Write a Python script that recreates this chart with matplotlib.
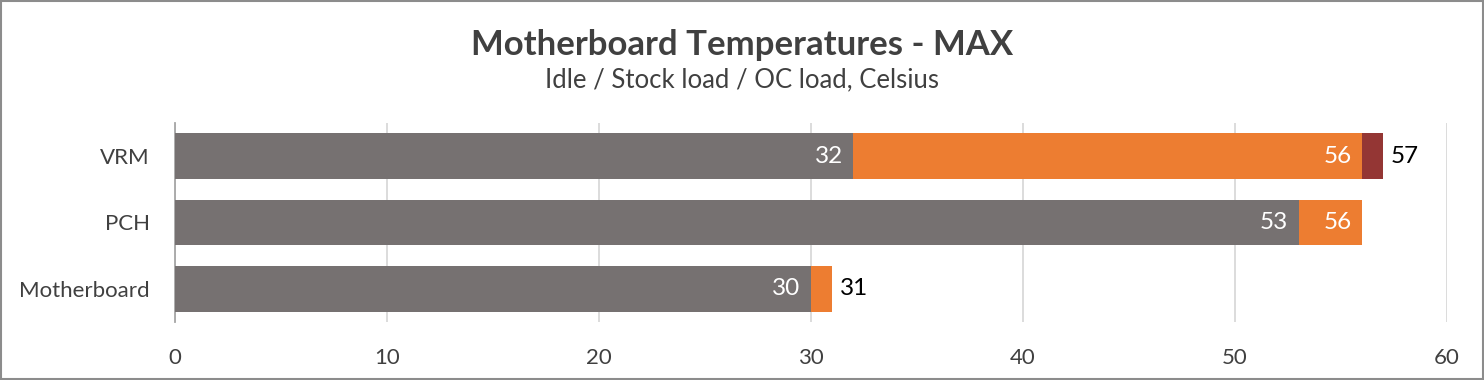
import matplotlib.pyplot as plt

plt.rcParams['font.family'] = ['Lato', 'DejaVu Sans']

categories = ['VRM', 'PCH', 'Motherboard']
idle = [32, 53, 30]
stock = [56, 56, 31]
oc = [57, 56, 31]
idle_labels = ['32', '53', '30']
stock_labels = ['56', '56', None]
oc_labels = ['57', None, '31']

c_idle = '#767171'
c_stock = '#ED7D31'
c_oc = '#943634'

fig = plt.figure(figsize=(14.84, 3.8), dpi=100)
ax = fig.add_axes([175 / 1484, 58 / 380, (1447 - 175) / 1484, 199 / 380])

ypos = [2, 1, 0]
h = 0.69
ax.barh(ypos, oc, height=h, color=c_oc, zorder=2)
ax.barh(ypos, stock, height=h, color=c_stock, zorder=3)
ax.barh(ypos, idle, height=h, color=c_idle, zorder=4)

pad = 0.5
for y, v, t in zip(ypos, idle, idle_labels):
    if t: ax.text(v - pad, y, t, ha='right', va='center', color='white', fontsize=17.5, zorder=5)
for y, v, t in zip(ypos, stock, stock_labels):
    if t: ax.text(v - pad, y, t, ha='right', va='center', color='white', fontsize=17.5, zorder=5)
for y, v, t in zip(ypos, oc, oc_labels):
    if t: ax.text(v + 0.35, y, t, ha='left', va='center', color='black', fontsize=17.5, zorder=5)

ax.set_xlim(0, 60)
ax.set_ylim(-0.5, 2.5)
ax.set_xticks(range(0, 61, 10))
ax.set_yticks(ypos)
ax.set_yticklabels(categories)
ax.grid(axis='x', color='#D9D9D9', lw=1.3, zorder=0)
ax.tick_params(length=0, labelsize=16, colors='#404040')
ax.tick_params(axis='x', pad=19)
ax.tick_params(axis='y', pad=18)
for s in ['top', 'right', 'bottom']:
    ax.spines[s].set_visible(False)
ax.spines['left'].set_color('#A6A6A6')
ax.spines['left'].set_linewidth(1.3)

fig.text(0.5, 1 - 45 / 380, 'Motherboard Temperatures - MAX', ha='center', va='center',
         fontsize=25, fontweight='bold', color='#404040')
fig.text(0.5, 1 - 80 / 380, 'Idle / Stock load / OC load, Celsius', ha='center', va='center',
         fontsize=18.5, color='#404040')

fig.patches.append(plt.Rectangle((0.0005, 0.002), 0.999, 0.996, transform=fig.transFigure,
                                 fill=False, edgecolor='#8C8C8C', lw=1.5))

fig.savefig('out.png', dpi=100, facecolor='white')
